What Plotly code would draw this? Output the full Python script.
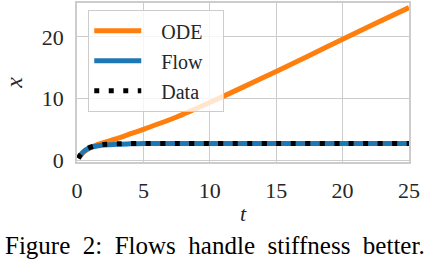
import plotly.graph_objects as go

# ODE solution (diverges linearly)
ode_t = [0.1, 0.5, 1.0, 1.5, 2.0, 3.0, 4.0, 5.0, 7.5, 10.0, 12.5, 15.0, 17.5, 20.0, 22.5, 25.0]
ode_x = [0.3, 1.3, 2.0, 2.5, 2.85, 3.5, 4.25, 5.0, 7.0, 9.35, 11.85, 14.4, 17.0, 19.6, 22.2, 24.75]

# Flow model
flow_t = [0.1, 0.25, 0.5, 0.75, 1.0, 1.5, 2.0, 3.0, 4.0, 5.0, 7.5, 10.0, 15.0, 20.0, 25.0]
flow_x = [0.3, 0.8, 1.4, 1.8, 2.05, 2.3, 2.45, 2.6, 2.65, 2.7, 2.7, 2.7, 2.7, 2.7, 2.7]

# Data
data_t = [0.1, 0.25, 0.5, 0.75, 1.0, 1.5, 2.0, 3.0, 4.0, 5.0, 7.5, 10.0, 15.0, 20.0, 25.0]
data_x = [0.3, 0.85, 1.45, 1.85, 2.1, 2.4, 2.55, 2.65, 2.7, 2.72, 2.72, 2.72, 2.72, 2.72, 2.72]

series_names = ["ODE", "Flow", "Data"]
x_ticks = [0, 5, 10, 15, 20, 25]
y_ticks = [0, 10, 20]
caption_words = ["Figure", "2:", "Flows", "handle", "stiffness", "better."]

SERIF = "'Liberation Serif', 'Times New Roman', 'DejaVu Serif', serif"
TXT = "#262626"
GRID = "#cccccc"
PAD = "&nbsp;&nbsp;&nbsp;"

fig = go.Figure()
fig.add_trace(go.Scatter(x=ode_t, y=ode_x, mode="lines", name=PAD + series_names[0] + PAD, legendgroup="a",
                         line=dict(color="#ff7f0e", width=5, shape="spline", smoothing=0.6)))
fig.add_trace(go.Scatter(x=flow_t, y=flow_x, mode="lines", name=PAD + series_names[1] + PAD, legendgroup="b",
                         line=dict(color="#1f77b4", width=5, shape="spline", smoothing=0.6)))
fig.add_trace(go.Scatter(x=data_t, y=data_x, mode="lines", name=PAD + series_names[2] + PAD, legendgroup="c",
                         line=dict(color="black", width=5, dash="5px,9.5px", shape="spline", smoothing=0.6)))

axis_common = dict(
    showgrid=True, gridcolor=GRID, gridwidth=1.3,
    showline=True, linecolor=GRID, linewidth=1.5, mirror=True,
    zeroline=False, ticks="outside", tickcolor="rgba(0,0,0,0)",
    tickfont=dict(family=SERIF, size=22, color=TXT),
    automargin=False,
)

fig.update_layout(
    width=430, height=260,
    margin=dict(l=77, r=21, t=3, b=98, autoexpand=False),
    paper_bgcolor="white", plot_bgcolor="white",
    xaxis=dict(range=[0, 25], tickvals=x_ticks, ticklen=8,
               title=dict(text="<i>t</i>", font=dict(family=SERIF, size=22, color=TXT), standoff=3),
               **axis_common),
    yaxis=dict(range=[-0.3, 25.5], tickvals=y_ticks, ticklen=7,
               title=dict(text="<i>x</i>", font=dict(family=SERIF, size=24, color=TXT), standoff=12),
               **axis_common),
    legend=dict(x=0.033, y=0.956, xanchor="left", yanchor="top",
                bgcolor="rgba(255,255,255,0.8)", bordercolor=GRID, borderwidth=1.3,
                font=dict(family=SERIF, size=20, color=TXT),
                tracegroupgap=1, itemwidth=47),
    showlegend=True,
    annotations=[dict(text=" &nbsp;".join(caption_words),
                      xref="paper", yref="paper", x=(215 - 77) / 332, y=(162 - 260) / 159,
                      xanchor="center", yanchor="bottom", showarrow=False, borderpad=0,
                      font=dict(family=SERIF, size=25, color="black"))],
)

fig.write_html("out.html", config={"displayModeBar": False},
               post_script="document.body.style.margin='0';document.body.style.padding='0';")
